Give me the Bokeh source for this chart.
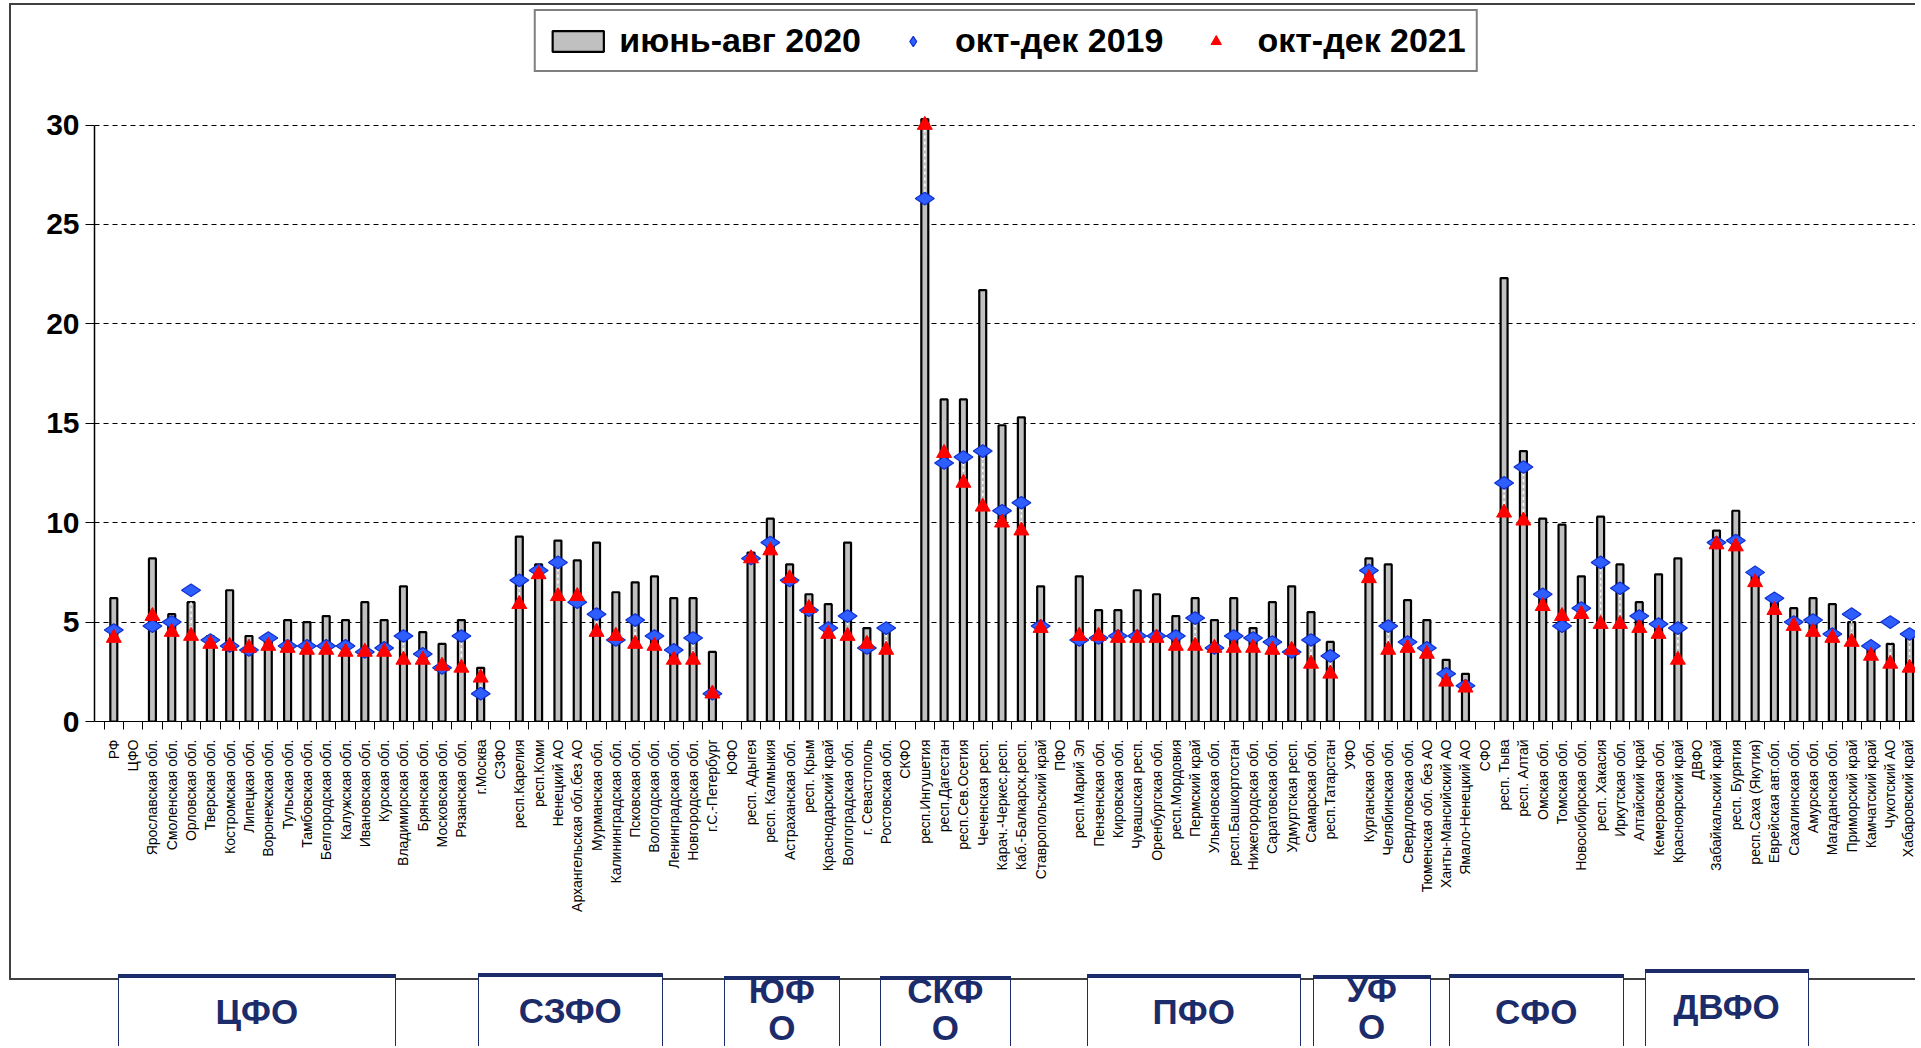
import math
from bokeh.plotting import figure
from bokeh.layouts import column
from bokeh.models import (ColumnDataSource, FixedTicker, Legend, LegendItem, Range1d, Div)
from bokeh.embed import file_html
from bokeh.resources import INLINE

# ---------------- data ----------------
categories = [
    "РФ", "ЦФО", "Ярославская обл.", "Смоленская обл.", "Орловская обл.", "Тверская обл.",
    "Костромская обл.", "Липецкая обл.", "Воронежская обл.", "Тульская обл.", "Тамбовская обл.",
    "Белгородская обл.", "Калужская обл.", "Ивановская обл.", "Курская обл.", "Владимирская обл.",
    "Брянская обл.", "Московская обл.", "Рязанская обл.", "г.Москва",
    "СЗФО", "респ.Карелия", "респ.Коми", "Ненецкий АО", "Архангельская обл.без АО",
    "Мурманская обл.", "Калининградская обл.", "Псковская обл.", "Вологодская обл.",
    "Ленинградская обл.", "Новгородская обл.", "г.С.-Петербург",
    "ЮФО", "респ. Адыгея", "респ. Калмыкия", "Астраханская обл.", "респ. Крым",
    "Краснодарский край", "Волгоградская обл.", "г. Севастополь", "Ростовская обл.",
    "СКФО", "респ.Ингушетия", "респ.Дагестан", "респ.Сев.Осетия", "Чеченская респ.",
    "Карач.-Черкес.респ.", "Каб.-Балкарск.респ.", "Ставропольский край",
    "ПФО", "респ.Марий Эл", "Пензенская обл.", "Кировская обл.", "Чувашская респ.",
    "Оренбургская обл.", "респ.Мордовия", "Пермский край", "Ульяновская обл.",
    "респ.Башкортостан", "Нижегородская обл.", "Саратовская обл.", "Удмуртская респ.",
    "Самарская обл.", "респ.Татарстан",
    "УФО", "Курганская обл.", "Челябинская обл.", "Свердловская обл.", "Тюменская обл. без АО",
    "Ханты-Мансийский АО", "Ямало-Ненецкий АО",
    "СФО", "респ. Тыва", "респ. Алтай", "Омская обл.", "Томская обл.", "Новосибирская обл.",
    "респ. Хакасия", "Иркутская обл.", "Алтайский край", "Кемеровская обл.", "Красноярский край",
    "ДВФО", "Забайкальский край", "респ. Бурятия", "респ.Саха (Якутия)", "Еврейская авт.обл.",
    "Сахалинская обл.", "Амурская обл.", "Магаданская обл.", "Приморский край",
    "Камчатский край", "Чукотский АО", "Хабаровский край",
]

jun_aug_2020 = [
    6.2, None, 8.2, 5.4, 6.0, 4.3, 6.6, 4.3, 4.1, 5.1, 5.0, 5.3, 5.1, 6.0, 5.1, 6.8, 4.5, 3.9, 5.1, 2.7,
    None, 9.3, 7.9, 9.1, 8.1, 9.0, 6.5, 7.0, 7.3, 6.2, 6.2, 3.5,
    None, 8.5, 10.2, 7.9, 6.4, 5.9, 9.0, 4.7, 4.7,
    None, 30.3, 16.2, 16.2, 21.7, 14.9, 15.3, 6.8,
    None, 7.3, 5.6, 5.6, 6.6, 6.4, 5.3, 6.2, 5.1, 6.2, 4.7, 6.0, 6.8, 5.5, 4.0,
    None, 8.2, 7.9, 6.1, 5.1, 3.1, 2.4,
    None, 22.3, 13.6, 10.2, 9.9, 7.3, 10.3, 7.9, 6.0, 7.4, 8.2,
    None, 9.6, 10.6, 7.4, 6.0, 5.7, 6.2, 5.9, 5.0, 3.9, 3.9, 4.4,
]

oct_dec_2019 = [
    4.6, None, 4.8, 5.0, 6.6, 4.1, 3.8, 3.6, 4.2, 3.8, 3.8, 3.8, 3.8, 3.5, 3.7, 4.3, 3.4, 2.7, 4.3, 1.4,
    None, 7.1, 7.6, 8.0, 6.0, 5.4, 4.1, 5.1, 4.3, 3.6, 4.2, 1.4,
    None, 8.2, 9.0, 7.1, 5.6, 4.7, 5.3, 3.7, 4.7,
    None, 26.3, 13.0, 13.3, 13.6, 10.6, 11.0, 4.8,
    None, 4.1, 4.2, 4.3, 4.3, 4.3, 4.3, 5.2, 3.7, 4.3, 4.2, 4.0, 3.5, 4.1, 3.3,
    None, 7.6, 4.8, 4.0, 3.7, 2.4, 1.8,
    None, 12.0, 12.8, 6.4, 4.8, 5.7, 8.0, 6.7, 5.3, 4.9, 4.7,
    None, 9.0, 9.1, 7.5, 6.2, 5.0, 5.1, 4.4, 5.4, 3.8, 5.0, 4.4,
]

oct_dec_2021 = [
    4.2, None, 5.3, 4.5, 4.3, 3.9, 3.8, 3.7, 3.8, 3.7, 3.6, 3.6, 3.5, 3.5, 3.5, 3.1, 3.1, 2.8, 2.7, 2.2,
    None, 5.9, 7.4, 6.3, 6.3, 4.5, 4.3, 3.9, 3.8, 3.1, 3.1, 1.4,
    None, 8.2, 8.6, 7.2, 5.7, 4.4, 4.3, 3.9, 3.6,
    None, 30.0, 13.5, 12.0, 10.8, 10.0, 9.6, 4.7,
    None, 4.3, 4.3, 4.2, 4.2, 4.2, 3.8, 3.8, 3.7, 3.7, 3.7, 3.6, 3.6, 2.9, 2.4,
    None, 7.2, 3.6, 3.7, 3.4, 2.0, 1.7,
    None, 10.5, 10.1, 5.8, 5.3, 5.4, 4.9, 4.9, 4.7, 4.4, 3.1,
    None, 8.9, 8.8, 7.0, 5.6, 4.8, 4.5, 4.2, 4.0, 3.3, 2.9, 2.7,
]

series_names = ["июнь-авг 2020", "окт-дек 2019", "окт-дек 2021"]
y_ticks = [0, 5, 10, 15, 20, 25, 30]

district_lines = [["ЦФО"], ["СЗФО"], ["ЮФ", "О"], ["СКФ", "О"],
                  ["ПФО"], ["УФ", "О"], ["СФО"], ["ДВФО"]]

# ---------------- layout / style ----------------
PAGE_W = 1915
M_LEFT, M_TOP = 9, 3            # outer frame position on the page
W = PAGE_W - M_LEFT             # main figure width
H_MAIN = 929                    # main figure height (page 3 .. 932)
H_STRIP = 1046 - (M_TOP + H_MAIN)
FRAME_BOTTOM = 716
LEFT = 83
X_END = 94.41
PX_PER_UNIT = (W - LEFT) / X_END
X0_PAGE = M_LEFT + LEFT        # page x of category position 0

# district boxes: x extents in category units, tops in page px
district_box_x = [(1.34, 15.73), (19.98, 29.56), (32.72, 38.73), (40.80, 47.58),
                  (51.52, 62.60), (63.22, 69.33), (70.26, 79.33), (80.41, 88.90)]
district_box_top = [974, 973, 976, 976, 974, 975, 974, 969]
FRAME_LINE_Y = 979
NAVY = "#1C2B6A"
BORDER = "#404040"

xs = list(range(1, len(categories) + 1))


def src(vals):
    x = [xi for xi, v in zip(xs, vals) if v is not None]
    y = [v for v in vals if v is not None]
    return ColumnDataSource(dict(x=x, y=y))


seg_x, seg_y0, seg_y1 = [], [], []
for xi, a, b in zip(xs, oct_dec_2019, oct_dec_2021):
    if a is not None and b is not None:
        seg_x.append(xi)
        seg_y0.append(a)
        seg_y1.append(b)
seg_src = ColumnDataSource(dict(x=seg_x, y0=seg_y0, y1=seg_y1))

p = figure(width=W, height=H_MAIN, x_range=Range1d(0, X_END),
           y_range=Range1d(0, FRAME_BOTTOM * 30 / 596.5),
           output_backend="svg", toolbar_location=None,
           min_border_left=LEFT, min_border_right=0, min_border_top=0,
           min_border_bottom=H_MAIN - FRAME_BOTTOM)
p.margin = (M_TOP, 0, 0, M_LEFT)
p.outline_line_color = None
p.background_fill_color = "white"
p.border_fill_color = "white"
p.styles = {"border-left": "2px solid " + BORDER, "border-top": "2px solid " + BORDER}

bars = p.vbar(x="x", top="y", width=0.36, bottom=0, source=src(jun_aug_2020),
              fill_color="#C0C0C0", line_color="black", line_width=2.2)
p.segment(x0="x", y0="y0", x1="x", y1="y1", source=seg_src,
          line_color="white", line_width=1.5, line_dash="3 3")
dia = p.scatter(x="x", y="y", source=src(oct_dec_2019), marker="diamond", size=19,
                angle=math.pi / 2, fill_color="#2F5EFF", line_color="#1030D0", line_width=1.2)
tri = p.scatter(x="x", y="y", source=src(oct_dec_2021), marker="triangle", size=15,
                fill_color="#FF0000", line_color="#FF0000", line_width=1)

# y axis
p.yaxis.ticker = FixedTicker(ticks=y_ticks)
p.yaxis.bounds = (0, 30)
p.yaxis.axis_line_color = "black"
p.yaxis.axis_line_width = 1.5
p.yaxis.major_tick_out = 9
p.yaxis.major_tick_in = 0
p.yaxis.minor_tick_line_color = None
p.yaxis.major_label_text_font = "Liberation Sans"
p.yaxis.major_label_text_font_size = "30px"
p.yaxis.major_label_text_font_style = "bold"
p.yaxis.major_label_text_color = "black"
p.yaxis.major_label_standoff = 6

p.ygrid.ticker = FixedTicker(ticks=y_ticks[1:])
p.ygrid.grid_line_color = "black"
p.ygrid.grid_line_dash = "5 4"
p.ygrid.grid_line_width = 1
p.xgrid.visible = False

# x axis
p.xaxis.ticker = FixedTicker(ticks=xs, minor_ticks=[i + 0.5 for i in range(0, 95)])
p.xaxis.major_label_overrides = {i: c for i, c in zip(xs, categories)}
p.xaxis.major_label_orientation = math.pi / 2
p.xaxis.major_tick_line_color = None
p.xaxis.major_tick_out = 0
p.xaxis.major_tick_in = 0
p.xaxis.minor_tick_out = 8
p.xaxis.minor_tick_in = 0
p.xaxis.minor_tick_line_color = "black"
p.xaxis.axis_line_color = "black"
p.xaxis.axis_line_width = 1.2
p.xaxis.major_label_standoff = 10
p.xaxis.major_label_text_font = "'Liberation Sans Narrow', 'Liberation Sans'"
p.xaxis.major_label_text_font_size = "14px"
p.xaxis.major_label_text_color = "black"

# legend
legend = Legend(items=[LegendItem(label=series_names[0], renderers=[bars]),
                       LegendItem(label=series_names[1], renderers=[dia]),
                       LegendItem(label=series_names[2], renderers=[tri])],
                orientation="horizontal", location="top_center", margin=4,
                padding=10, spacing=20, label_standoff=10,
                glyph_width=64, glyph_height=26,
                border_line_color="black", border_line_width=2,
                background_fill_color="white", background_fill_alpha=1,
                label_text_font="Liberation Sans", label_text_font_size="34px",
                label_text_font_style="bold", label_text_color="black")
p.add_layout(legend, "center")

# ---------------- strip with federal district boxes (HTML) ----------------
strip_top = M_TOP + H_MAIN
parts = [
    f'<div style="position:relative;width:{PAGE_W}px;height:{H_STRIP}px;overflow:hidden;'
    f'background:white;font-family:\'Liberation Sans\',sans-serif;">',
    f'<div style="position:absolute;left:{M_LEFT}px;top:0px;width:2px;'
    f'height:{FRAME_LINE_Y - strip_top + 1}px;background:{BORDER};"></div>',
    f'<div style="position:absolute;left:{M_LEFT}px;top:{FRAME_LINE_Y - strip_top - 1}px;'
    f'width:{PAGE_W}px;height:2px;background:{BORDER};"></div>',
]
for (x0, x1), top, lines in zip(district_box_x, district_box_top, district_lines):
    left_px = X0_PAGE + x0 * PX_PER_UNIT
    width_px = (x1 - x0) * PX_PER_UNIT
    t = top - strip_top
    parts.append(
        f'<div style="position:absolute;left:{left_px:.1f}px;top:{t}px;width:{width_px:.1f}px;'
        f'height:{H_STRIP + 20}px;box-sizing:border-box;background:white;'
        f'border:1.5px solid {NAVY};border-top:4px solid {NAVY};"></div>')
    if len(lines) == 1:
        centers = [top + 38 - strip_top]
    else:
        centers = [top + 15 - strip_top, top + 52 - strip_top]
    for txt, cy in zip(lines, centers):
        parts.append(
            f'<div style="position:absolute;left:{left_px:.1f}px;width:{width_px:.1f}px;'
            f'top:{cy - 17}px;height:34px;line-height:34px;text-align:center;'
            f'font-size:35px;font-weight:bold;color:{NAVY};">{txt}</div>')
parts.append('</div>')
strip = Div(text="".join(parts), width=PAGE_W, height=H_STRIP, margin=(0, 0, 0, 0))

layout = column(p, strip, spacing=0)
open("out.html", "w").write(file_html(layout, INLINE))
